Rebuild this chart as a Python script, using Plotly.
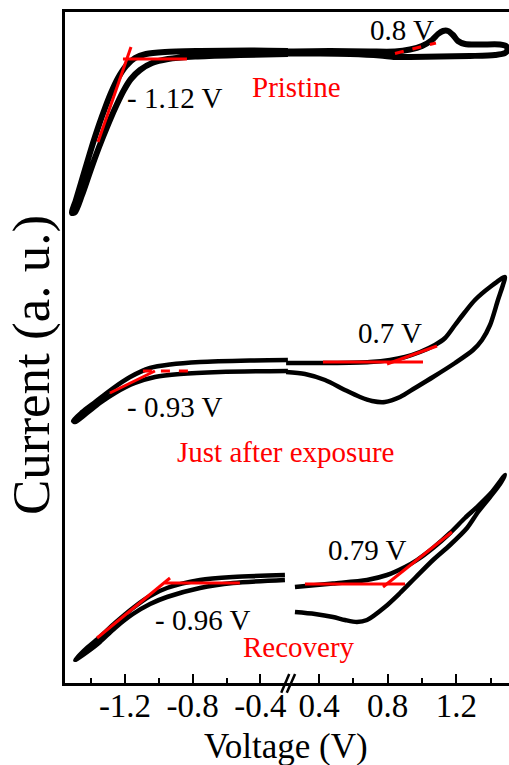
import plotly.graph_objects as go

FONT = "Liberation Serif"

# ---- Cyclic voltammograms (Voltage in V, Current in a.u., curves stacked with offsets)
# Each scan is split at the axis break: negative side (xaxis) and positive side (xaxis2)

# Pristine
pristine_neg_v = [-0.2375, -0.4615, -0.757, -0.964, -1.076, -1.141, -1.194, -1.241, -1.283, -1.318,
                  -1.354, -1.389, -1.425, -1.460, -1.490, -1.513,
                  -1.495, -1.454, -1.413, -1.371, -1.330, -1.289, -1.247, -1.206, -1.165, -1.111,
                  -1.040, -0.946, -0.786, -0.521, -0.2375]
pristine_neg_i = [6.32, 6.325, 6.32, 6.31, 6.29, 6.25, 6.17, 6.05, 5.90, 5.75,
                  5.58, 5.40, 5.20, 5.00, 4.83, 4.70,
                  4.71, 4.88, 5.08, 5.28, 5.46, 5.63, 5.79, 5.93, 6.04, 6.13,
                  6.20, 6.24, 6.265, 6.28, 6.29]
pristine_pos_v = [0.2085, 0.464, 0.697, 0.8425, 0.930, 1.000, 1.058, 1.093, 1.122, 1.151, 1.180,
                  1.209, 1.250, 1.337, 1.454, 1.489, 1.4975, 1.483,
                  1.425, 1.279, 1.1045, 0.930, 0.8425, 0.755, 0.5805, 0.406, 0.2085]
pristine_pos_i = [6.315, 6.32, 6.315, 6.315, 6.335, 6.37, 6.43, 6.49, 6.52, 6.52, 6.48,
                  6.42, 6.39, 6.385, 6.385, 6.37, 6.335, 6.30,
                  6.28, 6.27, 6.265, 6.26, 6.26, 6.275, 6.29, 6.295, 6.295]

# Just after exposure
exposed_neg_v = [-0.2375, -0.4615, -0.757, -0.934, -1.052, -1.170, -1.277, -1.377, -1.454, -1.507,
                 -1.495, -1.430, -1.348, -1.259, -1.141, -1.023, -0.875, -0.639, -0.2375]
exposed_neg_i = [3.23, 3.225, 3.21, 3.185, 3.15, 3.06, 2.94, 2.81, 2.71, 2.62,
                 2.61, 2.69, 2.80, 2.90, 3.00, 3.06, 3.09, 3.11, 3.12]
exposed_pos_v = [0.2085, 0.464, 0.697, 0.813, 0.901, 0.988, 1.075, 1.134, 1.192, 1.250, 1.308,
                 1.396, 1.483,
                 1.471, 1.442, 1.396, 1.349, 1.297, 1.192, 1.064, 0.959, 0.872, 0.784, 0.709,
                 0.639, 0.551, 0.435, 0.3185, 0.2085]
exposed_pos_i = [3.20, 3.20, 3.21, 3.23, 3.26, 3.31, 3.38, 3.45, 3.58, 3.71, 3.83,
                 3.96, 4.06,
                 3.98, 3.83, 3.58, 3.43, 3.33, 3.20, 3.06, 2.95, 2.86, 2.81, 2.82,
                 2.86, 2.93, 3.03, 3.09, 3.11]

# Recovery
recovery_neg_v = [-0.255, -0.562, -0.757, -0.952, -1.052, -1.153, -1.259, -1.348, -1.425, -1.495,
                  -1.484, -1.407, -1.348, -1.259, -1.153, -1.052, -0.952, -0.757, -0.562, -0.255]
recovery_neg_i = [1.08, 1.06, 1.03, 0.95, 0.87, 0.75, 0.60, 0.46, 0.35, 0.23,
                  0.24, 0.33, 0.41, 0.55, 0.69, 0.79, 0.86, 0.95, 1.00, 1.03]
recovery_pos_v = [0.260, 0.4815, 0.6795, 0.796, 0.901, 0.9706, 1.064, 1.163, 1.250, 1.320, 1.407,
                  1.483,
                  1.454, 1.396, 1.326, 1.262, 1.163, 1.064, 0.959, 0.872, 0.784, 0.6795, 0.621,
                  0.551, 0.4815, 0.377, 0.260]
recovery_pos_i = [0.96, 0.995, 1.03, 1.08, 1.16, 1.23, 1.35, 1.50, 1.65, 1.76, 1.91,
                  2.08,
                  1.99, 1.86, 1.71, 1.55, 1.38, 1.23, 1.05, 0.90, 0.76, 0.63, 0.61,
                  0.63, 0.66, 0.69, 0.71]

# ---- Onset tangent constructions: (axis, V0, I0, V1, I1, dash)
tangents = [
    ("x", -1.3595, 5.41, -1.1646, 6.36, "solid"),
    ("x", -1.212, 6.24, -0.834, 6.24, "solid"),
    ("x2", 0.8425, 6.295, 1.081, 6.40, "dash"),
    ("x", -1.289, 2.90, -1.023, 3.12, "solid"),
    ("x", -1.094, 3.12, -0.828, 3.12, "dash"),
    ("x2", 0.423, 3.21, 1.0055, 3.21, "solid"),
    ("x2", 0.796, 3.19, 1.087, 3.37, "solid"),
    ("x", -1.365, 0.45, -0.934, 1.05, "solid"),
    ("x", -0.964, 1.00, -0.521, 1.00, "solid"),
    ("x2", 0.3185, 0.99, 0.901, 0.99, "solid"),
    ("x2", 0.7726, 0.96, 1.174, 1.51, "solid"),
]

# ---- Onset potential labels: (axis, V, I, text)
onset_labels = [
    ("x2", 0.886, 6.53, "0.8 V"),
    ("x", -0.905, 5.85, "- 1.12 V"),
    ("x2", 0.813, 3.50, "0.7 V"),
    ("x", -0.91, 2.76, "- 0.93 V"),
    ("x2", 0.682, 1.33, "0.79 V"),
    ("x", -0.742, 0.63, "- 0.96 V"),
]
# ---- Sample state labels: (paper x, I, text)
state_labels = [
    (0.521, 5.96, "Pristine"),
    (0.4955, 2.31, "Just after exposure"),
    (0.527, 0.36, "Recovery"),
]

neg_ticks = [-1.2, -0.8, -0.4]
neg_minor = [-1.4, -1.0, -0.6]
pos_ticks = [0.4, 0.8, 1.2]
pos_minor = [0.6, 1.0, 1.4]

fig = go.Figure()

curves = [
    (pristine_neg_v, pristine_neg_i, pristine_pos_v, pristine_pos_i, 6),
    (exposed_neg_v, exposed_neg_i, exposed_pos_v, exposed_pos_i, 4.5),
    (recovery_neg_v, recovery_neg_i, recovery_pos_v, recovery_pos_i, 4.5),
]
for nv, ni, pv, pi, w in curves:
    fig.add_trace(go.Scatter(x=nv, y=ni, xaxis="x", yaxis="y", mode="lines",
                             line=dict(color="black", width=w, shape="spline", smoothing=0.8),
                             showlegend=False, hoverinfo="skip"))
    fig.add_trace(go.Scatter(x=pv, y=pi, xaxis="x2", yaxis="y", mode="lines",
                             line=dict(color="black", width=w, shape="spline", smoothing=0.8),
                             showlegend=False, hoverinfo="skip"))

for ax, v0, i0, v1, i1, dash in tangents:
    fig.add_trace(go.Scatter(x=[v0, v1], y=[i0, i1], xaxis=ax, yaxis="y", mode="lines",
                             line=dict(color="#ff0000", width=3, dash=dash),
                             showlegend=False, hoverinfo="skip"))

for ax, v, i, t in onset_labels:
    fig.add_annotation(x=v, y=i, xref=ax, yref="y", text=t, showarrow=False,
                       font=dict(family=FONT, size=29, color="black"),
                       xanchor="center", yanchor="middle")
for px, i, t in state_labels:
    fig.add_annotation(x=px, y=i, xref="paper", yref="y", text=t, showarrow=False,
                       font=dict(family=FONT, size=29, color="#ff0000"),
                       xanchor="center", yanchor="middle")

# axis titles
fig.add_annotation(x=0.4977, y=-0.095, xref="paper", yref="paper", text="Voltage (V)",
                   showarrow=False, font=dict(family=FONT, size=35, color="black"),
                   xanchor="center", yanchor="middle")
fig.add_annotation(x=-0.074, y=0.474, xref="paper", yref="paper", text="Current (a. u.)",
                   textangle=-90, showarrow=False, font=dict(family=FONT, size=53, color="black"),
                   xanchor="center", yanchor="middle")

# axis break marks
for x0, x1 in [(0.487, 0.505), (0.4995, 0.5182)]:
    fig.add_shape(type="line", xref="paper", yref="paper", x0=x0, y0=-0.0145, x1=x1, y1=0.0134,
                  line=dict(color="black", width=2.5))

axis_common = dict(showline=True, linecolor="black", linewidth=2.5, mirror=True,
                   ticks="inside", ticklen=9, tickwidth=2, tickcolor="black",
                   showgrid=False, zeroline=False, ticklabelstandoff=-8,
                   tickfont=dict(family=FONT, size=33, color="black"))

fig.update_layout(
    width=509, height=765,
    margin=dict(l=65, r=0, t=12, b=82),
    paper_bgcolor="white", plot_bgcolor="rgba(0,0,0,0)",
    xaxis=dict(domain=[0, 0.502], range=[-1.5545, -0.2375], anchor="y",
               tickmode="array", tickvals=neg_ticks, ticktext=[f"{v:.1f}" for v in neg_ticks],
               minor=dict(tickmode="array", tickvals=neg_minor, ticks="inside", ticklen=5,
                          tickwidth=2, tickcolor="black", showgrid=False),
               **axis_common),
    xaxis2=dict(domain=[0.498, 1], range=[0.2085, 1.5063], anchor="y",
                tickmode="array", tickvals=pos_ticks, ticktext=[f"{v:.1f}" for v in pos_ticks],
                minor=dict(tickmode="array", tickvals=pos_minor, ticks="inside", ticklen=5,
                           tickwidth=2, tickcolor="black", showgrid=False),
                **axis_common),
    yaxis=dict(range=[0, 6.71], showline=True, linecolor="black", linewidth=2.5,
               showticklabels=False, ticks="", showgrid=False, zeroline=False),
)

fig.write_html("out.html")
